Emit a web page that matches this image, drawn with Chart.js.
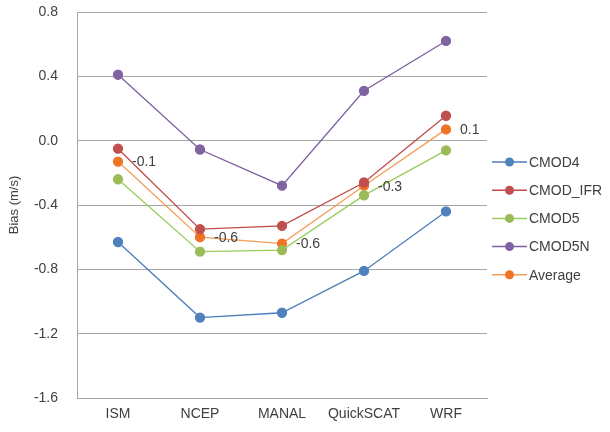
<!DOCTYPE html>
<html><head><meta charset="utf-8">
<script src="https://cdn.jsdelivr.net/npm/chart.js@4"></script>
<style>html,body{margin:0;padding:0;background:#fff}#wrap{width:610px;height:432px}</style>
</head><body><div id="wrap"><canvas id="c" width="610" height="432"></canvas></div>
<script>
const categories = ["ISM", "NCEP", "MANAL", "QuickSCAT", "WRF"];
const cmod4 = [-0.63, -1.10, -1.07, -0.81, -0.44];
const cmodIFR = [-0.05, -0.55, -0.53, -0.26, 0.155];
const cmod5 = [-0.24, -0.69, -0.68, -0.34, -0.06];
const cmod5n = [0.41, -0.055, -0.28, 0.31, 0.62];
const average = [-0.13, -0.60, -0.64, -0.28, 0.07];
const averageLabels = ["-0.1", "-0.6", "-0.6", "-0.3", "0.1"];
const yTicks = [-1.6, -1.2, -0.8, -0.4, 0.0, 0.4, 0.8];

const FONT = "'Liberation Sans', Arial, sans-serif";
const TXT = '#404040';

function ds(label, data, line, point) {
  return { label, data, borderColor: line, backgroundColor: point, pointBackgroundColor: point,
    pointBorderColor: point, pointRadius: 4.5, pointHoverRadius: 4.5, borderWidth: 1.3, tension: 0, fill: false };
}

const labelPlugin = {
  id: 'avgLabels',
  afterDatasetsDraw(chart) {
    const ctx = chart.ctx;
    const idx = chart.data.datasets.findIndex(d => d.label === 'Average');
    const meta = chart.getDatasetMeta(idx);
    ctx.save();
    ctx.font = '14px ' + FONT;
    ctx.fillStyle = TXT;
    ctx.textAlign = 'left';
    ctx.textBaseline = 'middle';
    meta.data.forEach((pt, i) => { ctx.fillText(averageLabels[i], pt.x + 14, pt.y + 1); });
    ctx.restore();
  }
};

const legendPlugin = {
  id: 'sideLegend',
  afterDraw(chart) {
    const ctx = chart.ctx;
    const x0 = 492, x1 = 527, tx = 529;
    const y0 = 162, dy = 28.2;
    ctx.save();
    ctx.font = '14px ' + FONT;
    ctx.textAlign = 'left';
    ctx.textBaseline = 'middle';
    chart.data.datasets.forEach((d, i) => {
      const y = y0 + i * dy;
      ctx.strokeStyle = d.borderColor; ctx.lineWidth = 1.5;
      ctx.beginPath(); ctx.moveTo(x0, y); ctx.lineTo(x1, y); ctx.stroke();
      ctx.fillStyle = d.pointBackgroundColor;
      ctx.beginPath(); ctx.arc((x0 + x1) / 2, y, 4.5, 0, Math.PI * 2); ctx.fill();
      ctx.fillStyle = TXT;
      ctx.fillText(d.label, tx, y + 1);
    });
    ctx.restore();
  }
};

new Chart(document.getElementById('c'), {
  type: 'line',
  data: {
    labels: categories,
    datasets: [
      ds('CMOD4', cmod4, '#4A7EBB', '#4F81BD'),
      ds('CMOD_IFR', cmodIFR, '#BE4B48', '#C0504D'),
      ds('CMOD5', cmod5, '#98CC5C', '#9BBB59'),
      ds('CMOD5N', cmod5n, '#7D5FA0', '#8064A2'),
      ds('Average', average, '#F59D56', '#EE7423')
    ]
  },
  options: {
    responsive: false,
    animation: false,
    devicePixelRatio: 1,
    layout: { padding: { left: 0, right: 123, top: 12, bottom: 0 } },
    plugins: { legend: { display: false }, tooltip: { enabled: false } },
    scales: {
      x: {
        offset: true,
        grid: { display: false, drawTicks: false },
        border: { display: true, color: '#A6A6A6', width: 1 },
        ticks: { color: TXT, font: { family: FONT, size: 14 }, padding: 8, maxRotation: 0, autoSkip: false },
        afterFit(s) { s.height = 34; s.paddingLeft = 0; s.paddingRight = 0; }
      },
      y: {
        min: -1.6, max: 0.8,
        afterBuildTicks(s) { s.ticks = yTicks.map(v => ({ value: v })); },
        grid: { color: '#A6A6A6', drawTicks: false, lineWidth: 1 },
        border: { display: true, color: '#A6A6A6', width: 1 },
        ticks: {
          color: TXT, font: { family: FONT, size: 14 }, padding: 19,
          callback: v => (Math.abs(v) < 1e-9 ? 0 : v).toFixed(1)
        },
        title: { display: true, text: 'Bias (m/s)', color: TXT, font: { family: FONT, size: 13 }, padding: { top: 7, bottom: 0 } },
        afterFit(s) { s.width = 77; s.paddingTop = 0; s.paddingBottom = 0; }
      }
    }
  },
  plugins: [labelPlugin, legendPlugin]
});
</script></body></html>
